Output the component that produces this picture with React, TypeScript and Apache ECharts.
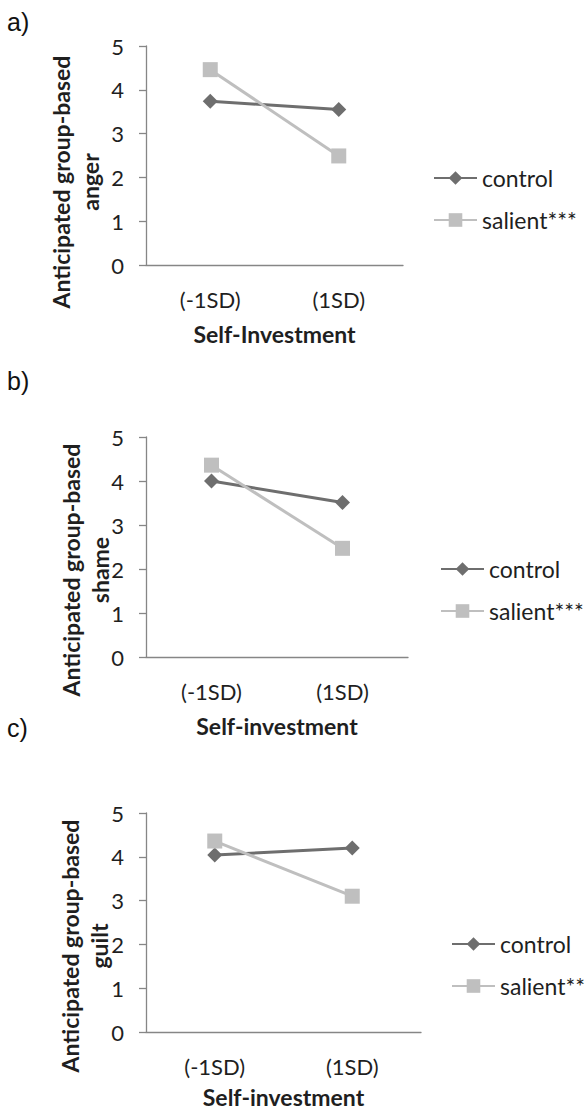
import React, { useEffect, useRef } from "react";
import * as echarts from "echarts";

// Moderator levels on the x axis
const categories = ["(-1SD)", "(1SD)"];

// a) anticipated group-based anger
const angerControl = [3.74, 3.55];
const angerSalient = [4.46, 2.49];

// b) anticipated group-based shame
const shameControl = [4.0, 3.51];
const shameSalient = [4.36, 2.47];

// c) anticipated group-based guilt
const guiltControl = [4.04, 4.2];
const guiltSalient = [4.36, 3.1];

const panelTags = ["a)", "b)", "c)"];
const yTitles = [
  "Anticipated group-based\nanger",
  "Anticipated group-based\nshame",
  "Anticipated group-based\nguilt",
];
const xTitles = ["Self-Investment", "Self-investment", "Self-investment"];
const salientNames = ["salient***", "salient***", "salient**"];

const DARK = "#6e6e6e";
const LIGHT = "#bfbfbf";
const AXIS = "#868686";
const TEXT = "#1f1f1f";
const FONT = "Lato, 'Open Sans', sans-serif";

// Plot-area boxes for the three panels
const grids = [
  { left: 146, top: 46, width: 257, height: 219 },
  { left: 146, top: 437, width: 262, height: 220 },
  { left: 146, top: 813, width: 275, height: 219 },
];
const xNameGaps = [57, 57, 53];
const legendPos = [
  { left: 433, top: 166 },
  { left: 440, top: 557 },
  { left: 451, top: 932 },
];
const yTitlePos = [
  { x: 75, y: 182 },
  { x: 85, y: 570 },
  { x: 84, y: 946 },
];
const tagY = [21.5, 381, 728];

export default function App() {
  const ref = useRef<HTMLDivElement>(null);

  useEffect(() => {
    if (!ref.current) return;
    const chart = echarts.init(ref.current, undefined, { renderer: "svg" });

    const panels = [
      [angerControl, angerSalient],
      [shameControl, shameSalient],
      [guiltControl, guiltSalient],
    ];

    const series: any[] = [];
    panels.forEach(([ctrl, sal], i) => {
      series.push({
        type: "line",
        name: "control",
        xAxisIndex: i,
        yAxisIndex: i,
        data: ctrl,
        symbol: "diamond",
        symbolSize: 15,
        lineStyle: { color: DARK, width: 3 },
        itemStyle: { color: DARK },
      });
      series.push({
        type: "line",
        name: salientNames[i],
        xAxisIndex: i,
        yAxisIndex: i,
        data: sal,
        symbol: "rect",
        symbolSize: 15,
        lineStyle: { color: LIGHT, width: 3 },
        itemStyle: { color: LIGHT },
      });
    });

    const option: any = {
      animation: false,
      backgroundColor: "#ffffff",
      grid: grids.map((g) => ({ ...g, containLabel: false, outerBoundsMode: "none" })),
      xAxis: grids.map((_, i) => ({
        type: "category",
        gridIndex: i,
        data: categories,
        boundaryGap: true,
        axisLine: { show: true, lineStyle: { color: AXIS, width: 1.3 } },
        axisTick: { show: false },
        axisLabel: { color: TEXT, fontFamily: FONT, fontSize: 22, margin: 23 },
        name: xTitles[i],
        nameLocation: "middle",
        nameGap: xNameGaps[i],
        nameTextStyle: { color: TEXT, fontFamily: FONT, fontSize: 23, fontWeight: "bold" },
      })),
      yAxis: grids.map((_, i) => ({
        type: "value",
        gridIndex: i,
        min: 0,
        max: 5,
        interval: 1,
        axisLine: { show: true, lineStyle: { color: AXIS, width: 1.3 } },
        axisTick: { show: true, inside: false, length: 7, lineStyle: { color: AXIS, width: 1.3 } },
        splitLine: { show: false },
        axisLabel: { color: TEXT, fontFamily: FONT, fontSize: 22, margin: 22 },
      })),
      legend: legendPos.map((p, i) => ({
        orient: "vertical",
        left: p.left,
        top: p.top,
        padding: 0,
        itemWidth: 43,
        itemHeight: 17,
        itemGap: 18,
        data: ["control", salientNames[i]],
        textStyle: { color: TEXT, fontFamily: FONT, fontSize: 23, lineHeight: 24 },
        selectedMode: false,
      })),
      graphic: [
        ...yTitlePos.map((p, i) => ({
          type: "text",
          x: p.x,
          y: p.y,
          rotation: Math.PI / 2,
          style: {
            text: yTitles[i],
            fill: TEXT,
            fontFamily: FONT,
            fontSize: 23,
            fontWeight: "bold",
            lineHeight: 29,
            align: "center",
            verticalAlign: "middle",
          },
        })),
        ...tagY.map((y, i) => ({
          type: "text",
          x: 7,
          y,
          style: {
            text: panelTags[i],
            fill: "#111111",
            fontFamily: "'Liberation Sans', Arial, sans-serif",
            fontSize: 25,
            align: "left",
            verticalAlign: "middle",
          },
        })),
      ],
      series,
    };

    chart.setOption(option);
    return () => chart.dispose();
  }, []);

  return (
    <div
      ref={ref}
      style={{ position: "absolute", left: 0, top: 0, width: 587, height: 1111, background: "#fff" }}
    />
  );
}
